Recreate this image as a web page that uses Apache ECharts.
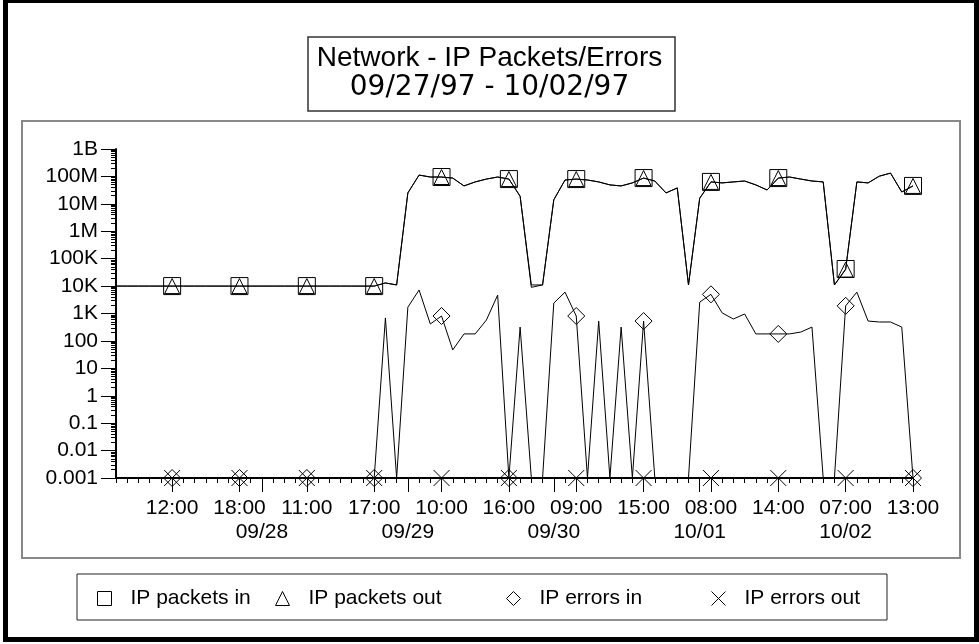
<!DOCTYPE html>
<html>
<head>
<meta charset="utf-8">
<script src="https://cdn.jsdelivr.net/npm/echarts@6/dist/echarts.min.js"></script>
<style>
html, body { margin: 0; padding: 0; background: #fff; }
#chart { width: 979px; height: 644px; }
</style>
</head>
<body>
<div id="chart"></div>
<script>
// tick labels
var timeLabels = ['12:00', '18:00', '11:00', '17:00', '10:00', '16:00', '09:00', '15:00', '08:00', '14:00', '07:00', '13:00'];
var dateLabels = ['09/28', '09/29', '09/30', '10/01', '10/02'];
var yTickLabels = ['0.001', '0.01', '0.1', '1', '10', '100', '1K', '10K', '100K', '1M', '10M', '100M', '1B'];

// one value per sample, zero counts shown at the 0.001 floor
var packetsIn = [
  1e4, 1e4, 1e4, 1e4, 1e4, 1e4, 1e4, 1e4, 1e4, 1e4, 1e4, 1e4,
  1e4, 1e4, 1e4, 1e4, 1e4, 1e4, 1e4, 1e4, 1e4, 1e4, 1e4, 1e4,
  13000, 11000, 25e6, 112e6, 95e6, 95e6, 87e6, 45e6, 63e6, 80e6, 95e6, 80e6,
  19e6, 9000, 11000, 14e6, 74e6, 80e6, 74e6, 63e6, 49e6, 45e6, 58e6, 87e6,
  68e6, 25e6, 38e6, 11000, 16e6, 63e6, 58e6, 63e6, 68e6, 49e6, 32e6, 87e6,
  95e6, 80e6, 68e6, 63e6, 11000, 42000, 63e6, 58e6, 102e6, 132e6, 27e6, 45e6
];
var packetsOut = [
  1e4, 1e4, 1e4, 1e4, 1e4, 1e4, 1e4, 1e4, 1e4, 1e4, 1e4, 1e4,
  1e4, 1e4, 1e4, 1e4, 1e4, 1e4, 1e4, 1e4, 1e4, 1e4, 1e4, 1e4,
  13000, 11000, 25e6, 112e6, 95e6, 95e6, 87e6, 45e6, 63e6, 80e6, 95e6, 80e6,
  19e6, 11000, 11000, 14e6, 74e6, 80e6, 74e6, 63e6, 49e6, 45e6, 58e6, 87e6,
  68e6, 25e6, 38e6, 11000, 16e6, 63e6, 58e6, 63e6, 68e6, 49e6, 32e6, 87e6,
  95e6, 80e6, 68e6, 63e6, 11000, 40000, 63e6, 58e6, 102e6, 132e6, 27e6, 45e6
];
var errorsIn = [
  0.001, 0.001, 0.001, 0.001, 0.001, 0.001, 0.001, 0.001, 0.001, 0.001, 0.001, 0.001,
  0.001, 0.001, 0.001, 0.001, 0.001, 0.001, 0.001, 0.001, 0.001, 0.001, 0.001, 0.001,
  690, 0.001, 1700, 7200, 415, 810, 47, 180, 180, 580, 4700, 0.001,
  320, 0.001, 0.001, 2400, 6000, 810, 0.001, 530, 0.001, 320, 0.001, 530,
  0.001, 0.001, 0.001, 0.001, 2600, 5000, 1050, 630, 960, 180, 180, 180,
  180, 210, 320, 0.001, 0.001, 1900, 6000, 530, 490, 490, 320, 0.001
];
var errorsOut = [
  0.001, 0.001, 0.001, 0.001, 0.001, 0.001, 0.001, 0.001, 0.001, 0.001, 0.001, 0.001,
  0.001, 0.001, 0.001, 0.001, 0.001, 0.001, 0.001, 0.001, 0.001, 0.001, 0.001, 0.001,
  0.001, 0.001, 0.001, 0.001, 0.001, 0.001, 0.001, 0.001, 0.001, 0.001, 0.001, 0.001,
  0.001, 0.001, 0.001, 0.001, 0.001, 0.001, 0.001, 0.001, 0.001, 0.001, 0.001, 0.001,
  0.001, 0.001, 0.001, 0.001, 0.001, 0.001, 0.001, 0.001, 0.001, 0.001, 0.001, 0.001,
  0.001, 0.001, 0.001, 0.001, 0.001, 0.001, 0.001, 0.001, 0.001, 0.001, 0.001, 0.001
];

var FONT = '"Liberation Sans", Arial, sans-serif';
var crossPath = 'path://M0,0L10,10M10,0L0,10';

var categories = [];
for (var i = 0; i < packetsIn.length; i++) categories.push(String(i));

// labelled samples every 6th point, day boundaries every 13th
function isTimeTick(i) { return i % 6 === 5; }
function isDateTick(i) { return i > 0 && i % 13 === 0; }

function withMarkers(values, symbol) {
  return values.map(function (v, i) {
    return { value: v, symbol: isTimeTick(i) ? symbol : 'none' };
  });
}

function lineSeries(name, values, symbol, size) {
  return {
    name: name,
    type: 'line',
    data: withMarkers(values, symbol),
    symbolSize: size,
    showAllSymbol: true,
    lineStyle: { color: '#000', width: 1 },
    itemStyle: { color: 'rgba(0,0,0,0)', borderColor: '#000', borderWidth: 1 },
    emphasis: { disabled: true },
    animation: false
  };
}

function legendAt(name, icon, left) {
  return {
    data: [{ name: name, icon: icon }],
    left: left,
    top: 583,
    itemWidth: 14,
    itemHeight: 14,
    selectedMode: false,
    itemStyle: { color: 'rgba(0,0,0,0)', borderColor: '#000', borderWidth: 1 },
    textStyle: { fontFamily: FONT, fontSize: 21, color: '#000', padding: [0, 0, 0, 14] }
  };
}

var chart = echarts.init(document.getElementById('chart'));

var option = {
  backgroundColor: '#fff',
  animation: false,
  title: [
    {
      text: 'Network - IP Packets/Errors',
      left: 'center',
      top: 38,
      textStyle: { fontFamily: FONT, fontSize: 28, fontWeight: 'normal', color: '#000', lineHeight: 30 }
    },
    {
      text: '09/27/97 - 10/02/97',
      left: 'center',
      top: 68,
      textStyle: { fontFamily: '"DejaVu Sans", sans-serif', fontSize: 28, fontWeight: 'normal', color: '#000', lineHeight: 30 }
    }
  ],
  graphic: [
    { type: 'rect', shape: { x: 5.5, y: 0.5, width: 971, height: 639 }, style: { fill: 'none', stroke: '#000', lineWidth: 5 }, z: 100 },
    { type: 'rect', shape: { x: 308, y: 37, width: 367, height: 74 }, style: { fill: 'none', stroke: '#333', lineWidth: 1.5 } },
    { type: 'rect', shape: { x: 22, y: 121, width: 938, height: 437 }, style: { fill: 'none', stroke: '#888', lineWidth: 2 } },
    { type: 'rect', shape: { x: 77, y: 574, width: 810, height: 46 }, style: { fill: 'none', stroke: '#222', lineWidth: 1 } }
  ],
  legend: [
    legendAt('IP packets in', 'rect', 92),
    legendAt('IP packets out', 'triangle', 270),
    legendAt('IP errors in', 'diamond', 501),
    legendAt('IP errors out', crossPath, 706)
  ],
  grid: { left: 116, right: 66, top: 149, bottom: 166, containLabel: false },
  xAxis: [
    {
      type: 'category',
      position: 'bottom',
      data: categories,
      boundaryGap: false,
      axisLine: { onZero: false, lineStyle: { color: '#000', width: 2 } },
      axisTick: { interval: 0, length: 5, lineStyle: { color: '#000', width: 1 } },
      axisLabel: {
        interval: function (i) { return isTimeTick(i); },
        formatter: function (v, i) { return timeLabels[(i - 5) / 6]; },
        margin: 20,
        fontFamily: FONT, fontSize: 21, lineHeight: 21, color: '#000'
      },
      splitLine: { show: false }
    },
    {
      type: 'category',
      position: 'bottom',
      data: categories,
      boundaryGap: false,
      axisLine: { show: false, onZero: false },
      axisTick: {
        interval: function (i) { return isTimeTick(i) || isDateTick(i); },
        length: 14,
        lineStyle: { color: '#000', width: 1 }
      },
      axisLabel: {
        interval: function (i) { return isDateTick(i); },
        formatter: function (v, i) { return dateLabels[i / 13 - 1]; },
        margin: 44,
        fontFamily: FONT, fontSize: 21, lineHeight: 21, color: '#000'
      },
      splitLine: { show: false }
    }
  ],
  yAxis: {
    type: 'log',
    logBase: 10,
    min: 0.001,
    max: 1e9,
    interval: 1,
    axisLine: { show: true, lineStyle: { color: '#000', width: 2 } },
    axisTick: { show: true, length: 15, lineStyle: { color: '#000', width: 1 } },
    minorTick: { show: true, splitNumber: 9, length: 5, lineStyle: { color: '#000', width: 1 } },
    axisLabel: {
      margin: 18,
      fontFamily: FONT, fontSize: 21, color: '#000',
      formatter: function (v) { return yTickLabels[Math.round(Math.log10(v)) + 3]; }
    },
    splitLine: { show: false },
    minorSplitLine: { show: false }
  },
  series: [
    lineSeries('IP packets in', packetsIn, 'rect', 17),
    lineSeries('IP packets out', packetsOut, 'triangle', 15),
    lineSeries('IP errors in', errorsIn, 'diamond', 17),
    lineSeries('IP errors out', errorsOut, crossPath, 16)
  ]
};

chart.setOption(option);
</script>
</body>
</html>
